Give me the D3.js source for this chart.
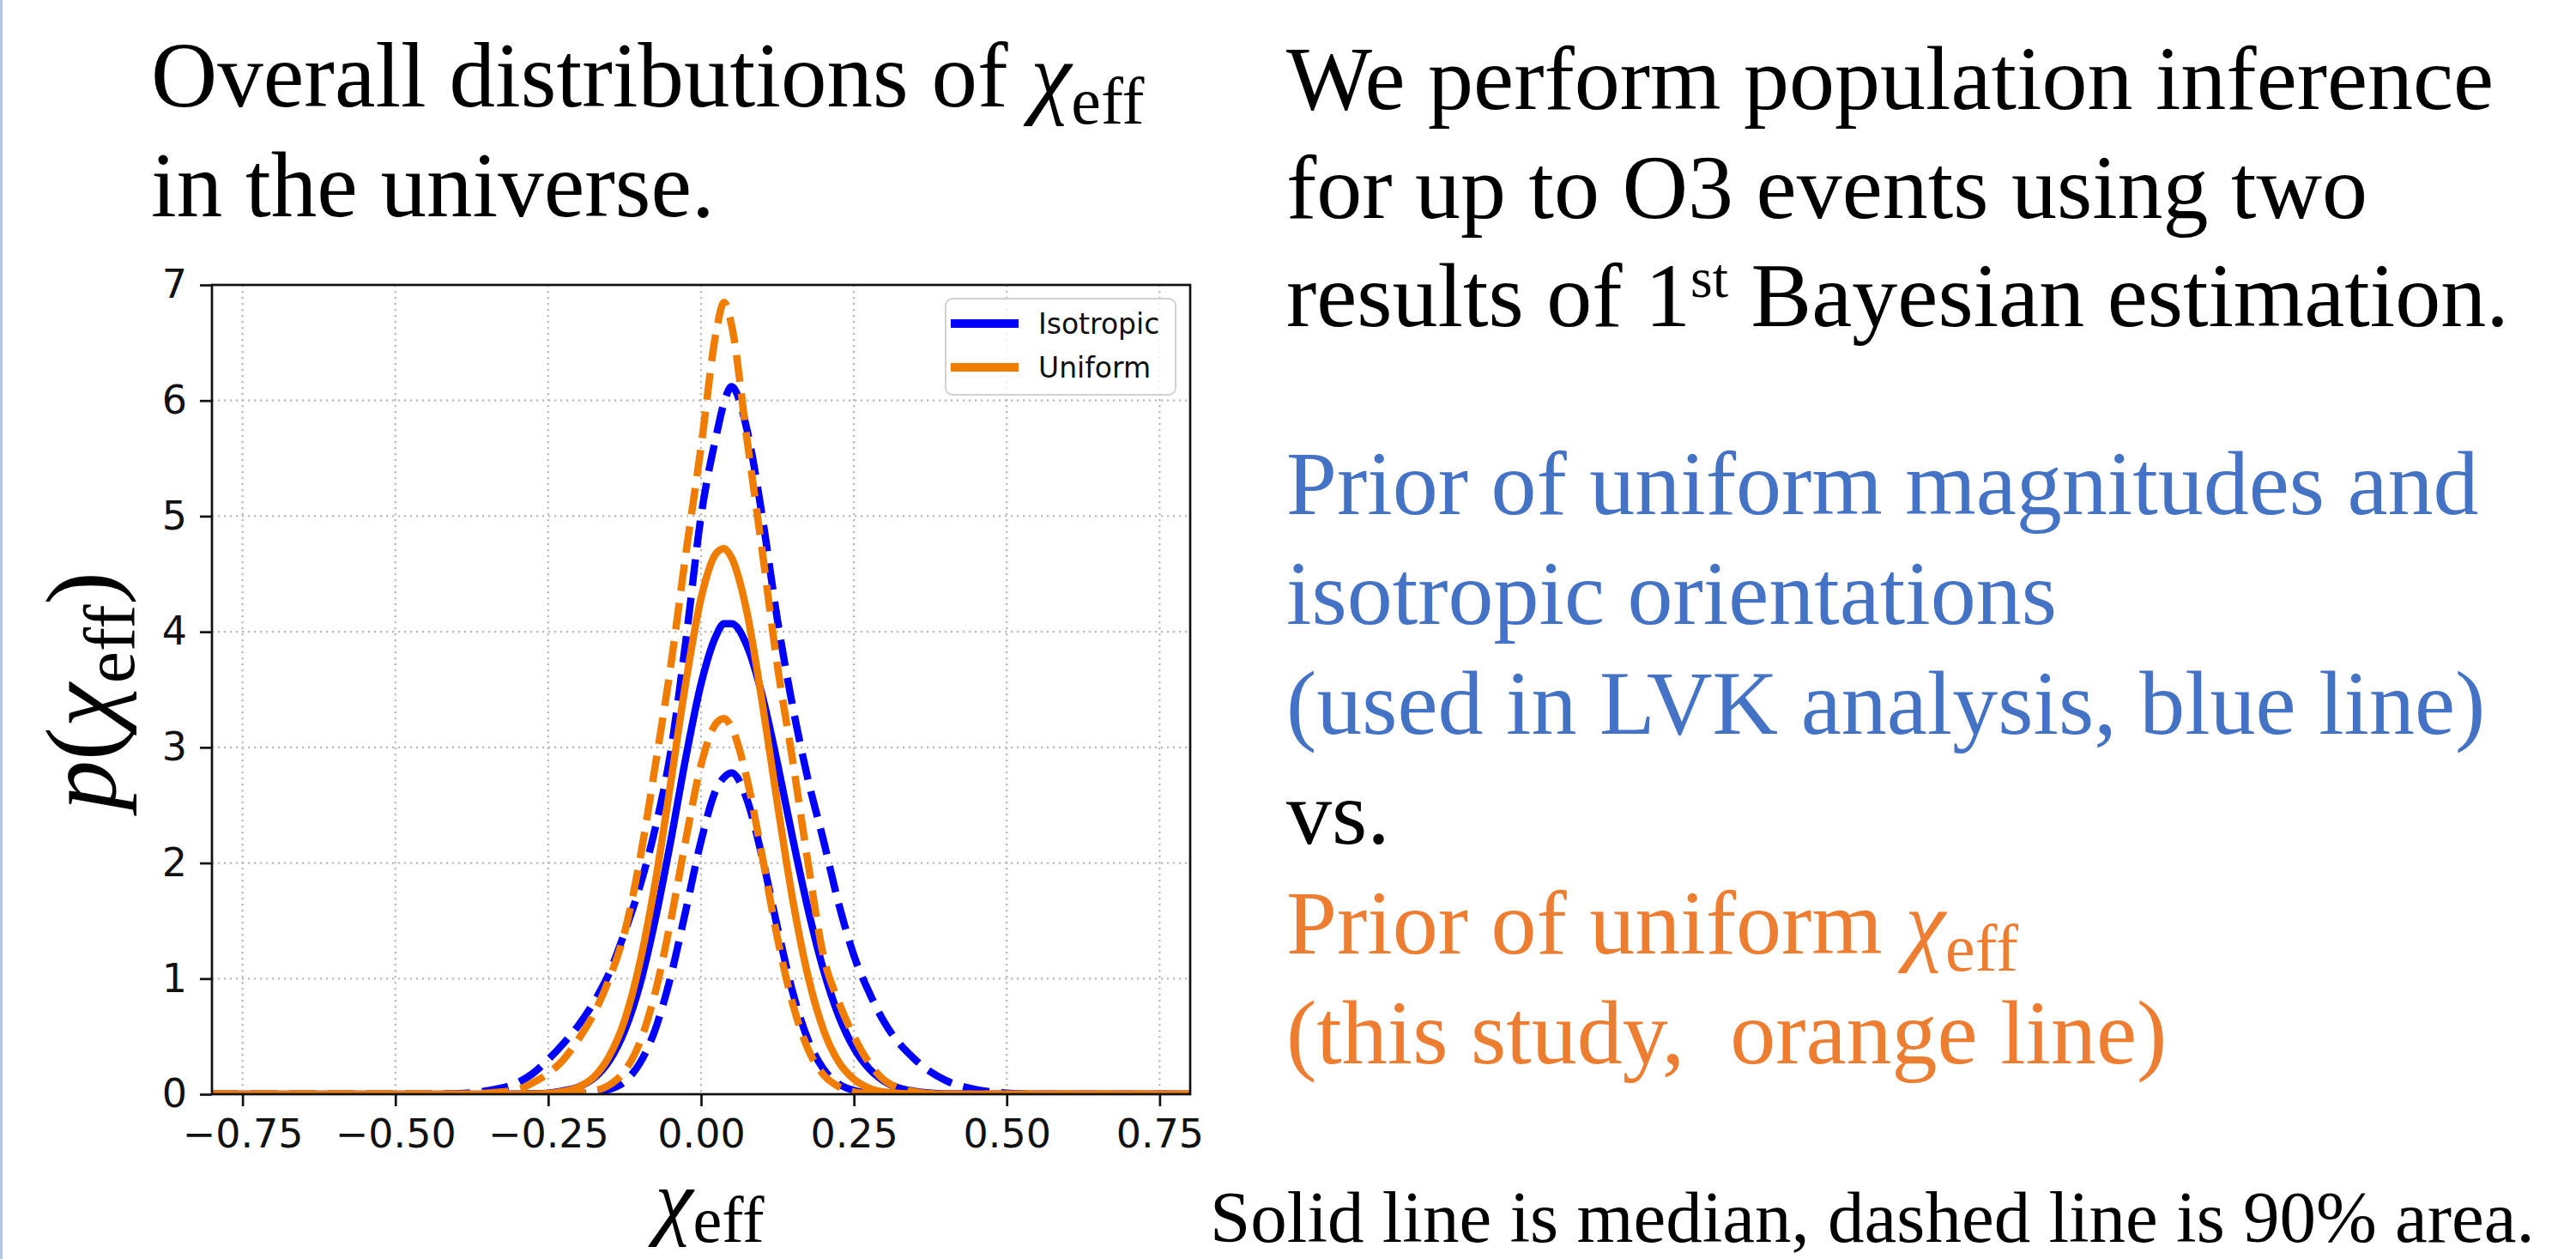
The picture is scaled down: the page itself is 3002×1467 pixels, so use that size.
<!DOCTYPE html>
<html>
<head>
<meta charset="utf-8">
<script src="https://cdn.jsdelivr.net/npm/d3@7"></script>
<style>
  body { margin: 0; background: #fff; }
  svg { display: block; }
</style>
</head>
<body>
<svg width="3002" height="1467"></svg>
<script>
// chi_eff sample points (shared by all 6 curves)
const chiEff = [-0.8, -0.5, -0.45, -0.4, -0.35, -0.3, -0.275, -0.25, -0.225, -0.2, -0.175, -0.15, -0.125, -0.1, -0.075, -0.05, -0.025, 0,
  0.025, 0.0375, 0.05, 0.075, 0.1, 0.125, 0.15, 0.175, 0.2, 0.225, 0.25, 0.275, 0.3, 0.35, 0.4, 0.45, 0.5, 0.55, 0.6, 0.8];

// isotropic prior (blue): median + 90% band
const isoMedian = [0, 0, 0, 0, 0, 0.002, 0.005, 0.01, 0.03, 0.064, 0.14, 0.29, 0.55, 0.95, 1.51, 2.18, 2.91, 3.55,
  3.97, 4.07, 4.07, 3.88, 3.45, 2.86, 2.21, 1.60, 1.08, 0.68, 0.40, 0.22, 0.11, 0.024, 0.003, 0, 0, 0, 0, 0];
const isoUpper = [0, 0, 0, 0.005, 0.03, 0.1, 0.18, 0.3, 0.44, 0.6, 0.8, 1.05, 1.4, 1.8, 2.3, 2.95, 3.92, 5.0,
  5.7, 5.98, 6.12, 5.75, 5.0, 4.1, 3.35, 2.72, 2.2, 1.65, 1.2, 0.88, 0.62, 0.3, 0.12, 0.04, 0.01, 0, 0, 0];
const isoLower = [0, 0, 0, 0, 0, 0, 0, 0, 0.001, 0.004, 0.013, 0.042, 0.11, 0.27, 0.56, 1.01, 1.59, 2.19,
  2.64, 2.74, 2.78, 2.55, 2.05, 1.44, 0.88, 0.47, 0.22, 0.09, 0.032, 0.01, 0.003, 0, 0, 0, 0, 0, 0, 0];

// uniform chi_eff prior (orange)
const uniMedian = [0, 0, 0, 0, 0, 0, 0.002, 0.008, 0.025, 0.063, 0.15, 0.33, 0.64, 1.14, 1.83, 2.68, 3.56, 4.29,
  4.68, 4.72, 4.64, 4.17, 3.39, 2.51, 1.68, 1.02, 0.56, 0.28, 0.13, 0.052, 0.019, 0.002, 0, 0, 0, 0, 0, 0];
const uniUpper = [0, 0, 0, 0, 0.01, 0.04, 0.1, 0.18, 0.3, 0.48, 0.7, 1.0, 1.4, 2.03, 2.84, 3.69, 4.67, 5.6,
  6.6, 6.85, 6.65, 5.67, 4.7, 3.7, 2.88, 2.0, 1.2, 0.8, 0.5, 0.27, 0.12, 0.02, 0, 0, 0, 0, 0, 0];
const uniLower = [0, 0, 0, 0, 0, 0, 0, 0, 0.002, 0.008, 0.028, 0.08, 0.2, 0.45, 0.88, 1.49, 2.2, 2.85,
  3.21, 3.25, 3.17, 2.73, 2.06, 1.35, 0.78, 0.39, 0.17, 0.066, 0.02, 0.005, 0, 0, 0, 0, 0, 0, 0, 0];

const xTicks = [-0.75, -0.5, -0.25, 0, 0.25, 0.5, 0.75];
const yTicks = [0, 1, 2, 3, 4, 5, 6, 7];
const legendNames = ["Isotropic", "Uniform"];

const BLUE = "#0000ff";
const ORANGE = "#f07c00";

const svg = d3.select("svg");

// slide edge
svg.append("rect").attr("x", 0).attr("y", 0).attr("width", 3).attr("height", 1467).attr("fill", "#b4c7e7");

// plot box
const box = { left: 247, right: 1387, top: 332, bottom: 1275 };
const x = d3.scaleLinear().domain([-0.8, 0.8]).range([box.left, box.right]);
const y = d3.scaleLinear().domain([0, 7]).range([box.bottom, box.top]);

svg.append("clipPath").attr("id", "clip")
  .append("rect")
  .attr("x", box.left).attr("y", box.top)
  .attr("width", box.right - box.left).attr("height", box.bottom - box.top);

// dotted grid
const grid = svg.append("g").attr("stroke", "#b8b8b8").attr("stroke-width", 2.2).attr("stroke-dasharray", "2.2,4.8");
grid.selectAll(".gx").data(xTicks).join("line")
  .attr("x1", d => x(d)).attr("x2", d => x(d))
  .attr("y1", box.top).attr("y2", box.bottom);
grid.selectAll(".gy").data(yTicks).join("line")
  .attr("y1", d => y(d)).attr("y2", d => y(d))
  .attr("x1", box.left).attr("x2", box.right);

// curves
const line = d3.line()
  .x((d, i) => x(chiEff[i]))
  .y(d => y(d))
  .curve(d3.curveMonotoneX);

const curves = [
  { vals: isoMedian, color: BLUE, dash: null },
  { vals: isoLower, color: BLUE, dash: "31,14" },
  { vals: isoUpper, color: BLUE, dash: "31,14" },
  { vals: uniMedian, color: ORANGE, dash: null },
  { vals: uniLower, color: ORANGE, dash: "31,14" },
  { vals: uniUpper, color: ORANGE, dash: "31,14" }
];

svg.append("g").attr("clip-path", "url(#clip)")
  .selectAll("path")
  .data(curves)
  .join("path")
  .attr("d", d => line(d.vals))
  .attr("fill", "none")
  .attr("stroke", d => d.color)
  .attr("stroke-width", 8.5)
  .attr("stroke-dasharray", d => d.dash);

// axes
const xAxis = svg.append("g")
  .attr("transform", `translate(0,${box.bottom})`)
  .call(d3.axisBottom(x).tickValues(xTicks).tickFormat(d3.format(".2f")).tickSize(14).tickPadding(15));
const yAxis = svg.append("g")
  .attr("transform", `translate(${box.left},0)`)
  .call(d3.axisLeft(y).tickValues(yTicks).tickFormat(d3.format("d")).tickSize(14).tickPadding(15));

[xAxis, yAxis].forEach(ax => {
  ax.select(".domain").remove();
  ax.selectAll(".tick line").attr("stroke", "#111").attr("stroke-width", 2.7);
  ax.selectAll(".tick text").attr("fill", "#111").attr("font-family", "DejaVu Sans").attr("font-size", 46);
});

// spines
svg.append("rect")
  .attr("x", box.left).attr("y", box.top)
  .attr("width", box.right - box.left).attr("height", box.bottom - box.top)
  .attr("fill", "none").attr("stroke", "#111").attr("stroke-width", 2.7);

// legend
const legend = svg.append("g");
legend.append("rect")
  .attr("x", 1102).attr("y", 348).attr("width", 268).attr("height", 112).attr("rx", 8)
  .attr("fill", "#fff").attr("fill-opacity", 0.8).attr("stroke", "#d2d2d2").attr("stroke-width", 2);
legend.selectAll(".item").data(legendNames).join("g")
  .attr("transform", (d, i) => `translate(1108,${377 + i * 51})`)
  .each(function (d, i) {
    const g = d3.select(this);
    g.append("line").attr("x1", 0).attr("x2", 79)
      .attr("stroke", i === 0 ? BLUE : ORANGE).attr("stroke-width", 10);
    g.append("text").attr("x", 102).attr("dy", "0.36em")
      .attr("font-family", "DejaVu Sans").attr("font-size", 33).attr("fill", "#111")
      .text(d);
  });

// axis labels
const xLab = svg.append("text")
  .attr("x", 827).attr("y", 1432).attr("text-anchor", "middle")
  .attr("font-family", "Liberation Serif").attr("font-size", 100);
xLab.append("tspan").attr("font-style", "italic").text("χ");
xLab.append("tspan").attr("font-size", 76).attr("dy", 15).text("eff");

const yLab = svg.append("text")
  .attr("transform", "translate(134,805) rotate(-90)").attr("text-anchor", "middle")
  .attr("font-family", "Liberation Serif").attr("font-size", 116);
yLab.append("tspan").attr("font-style", "italic").text("p");
yLab.append("tspan").text("(");
yLab.append("tspan").attr("font-style", "italic").text("χ");
yLab.append("tspan").attr("font-size", 84).attr("dy", 22).text("eff");
yLab.append("tspan").attr("dy", -22).text(")");

// slide text
const serif = "Liberation Serif";

const t1 = svg.append("text").attr("x", 176).attr("y", 124).attr("font-family", serif).attr("font-size", 107);
t1.append("tspan").text("Overall distributions of ");
t1.append("tspan").attr("font-style", "italic").text("χ");
t1.append("tspan").attr("font-size", 78).attr("dy", 20).text("eff");
svg.append("text").attr("x", 176).attr("y", 252).attr("font-family", serif).attr("font-size", 107)
  .text("in the universe.");

const introLines = ["We perform population inference", "for up to O3 events using two"];
svg.selectAll(".intro").data(introLines).join("text")
  .attr("x", 1499).attr("y", (d, i) => 127 + i * 127)
  .attr("font-family", serif).attr("font-size", 106)
  .text(d => d);
const t3 = svg.append("text").attr("x", 1499).attr("y", 380).attr("font-family", serif).attr("font-size", 106);
t3.append("tspan").text("results of 1");
t3.append("tspan").attr("font-size", 66).attr("dy", -34).text("st");
t3.append("tspan").attr("dy", 34).text(" Bayesian estimation.");

const blueLines = ["Prior of uniform magnitudes and", "isotropic orientations", "(used in LVK analysis, blue line)"];
svg.selectAll(".blueline").data(blueLines).join("text")
  .attr("x", 1499).attr("y", (d, i) => 599 + i * 128)
  .attr("font-family", serif).attr("font-size", 106).attr("fill", "#4472c4")
  .text(d => d);

svg.append("text").attr("x", 1499).attr("y", 983).attr("font-family", serif).attr("font-size", 106).text("vs.");

const o1 = svg.append("text").attr("x", 1499).attr("y", 1111).attr("font-family", serif).attr("font-size", 106).attr("fill", "#ed7d31");
o1.append("tspan").text("Prior of uniform ");
o1.append("tspan").attr("font-style", "italic").text("χ");
o1.append("tspan").attr("font-size", 78).attr("dy", 20).text("eff");
svg.append("text").attr("x", 1499).attr("y", 1239).attr("font-family", serif).attr("font-size", 106).attr("fill", "#ed7d31")
  .style("white-space", "pre")
  .text("(this study,  orange line)");

svg.append("text").attr("x", 1410).attr("y", 1447).attr("font-family", serif).attr("font-size", 85)
  .text("Solid line is median, dashed line is 90% area.");
</script>
</body>
</html>
